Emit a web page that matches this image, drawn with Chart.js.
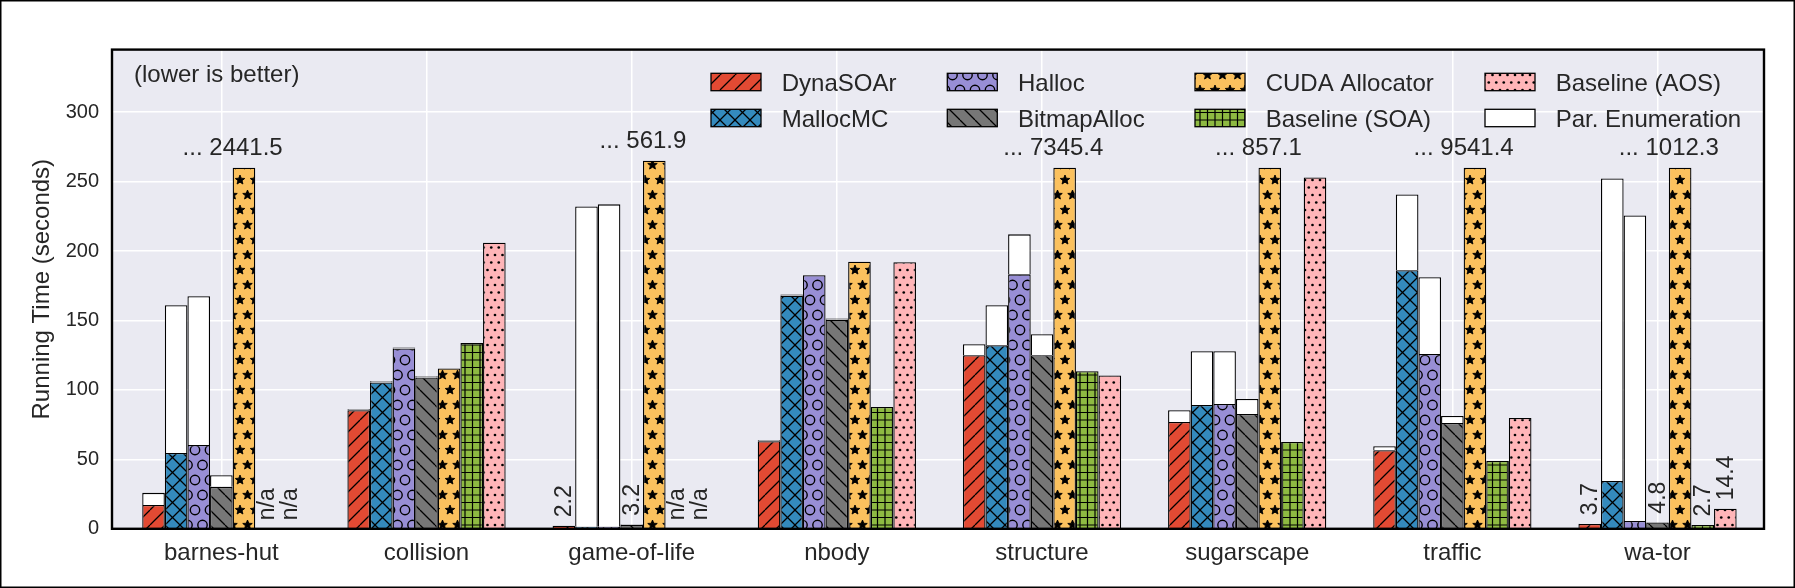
<!DOCTYPE html>
<html>
<head>
<meta charset="utf-8">
<script src="https://cdn.jsdelivr.net/npm/chart.js@4.4.0/dist/chart.umd.min.js"></script>
<style>
html,body{margin:0;padding:0;background:#fff;}
#wrap{width:1795px;height:588px;position:relative;}
canvas{display:block;}
</style>
</head>
<body>
<div id="wrap"><canvas id="c" width="1795" height="588"></canvas></div>
<script>
// ---------------- data ----------------
const categories = ['barnes-hut', 'collision', 'game-of-life', 'nbody', 'structure', 'sugarscape', 'traffic', 'wa-tor'];
const seriesNames = ['DynaSOAr', 'MallocMC', 'Halloc', 'BitmapAlloc', 'CUDA Allocator', 'Baseline (SOA)', 'Baseline (AOS)'];
const enumName = 'Par. Enumeration';

// running time without parallel enumeration (seconds)
const dynasoar = [17.2, 85.3, 2.0, 63.0, 125.0, 76.9, 56.5, 3.5];
const mallocmc = [54.6, 105.4, 1.5, 167.9, 132.2, 89.1, 186.1, 34.5];
const halloc   = [60.4, 129.8, 1.5, 182.5, 183.2, 89.8, 125.8, 5.7];
const bitmap   = [30.2, 109.0, 3.0, 150.6, 125.0, 82.6, 76.2, 4.6];
const cuda     = [2441.5, 115.4, 561.9, 192.3, 7345.4, 857.1, 9541.4, 1012.3];
const soa      = [null, 133.7, null, 87.7, 113.5, 62.5, 48.9, 2.7];
const aos      = [null, 206.0, null, 191.9, 110.4, 253.0, 79.8, 14.4];

// additional time for parallel enumeration (stacked on top)
const dynasoarEnum = [8.7, 0.8, 0.2, 0.8, 7.9, 8.4, 2.9, 0.2];
const mallocmcEnum = [106.4, 0.8, 230.6, 0.8, 28.8, 38.8, 54.6, 217.7];
const hallocEnum   = [107.0, 0.8, 232.1, 0.3, 28.8, 38.1, 55.3, 219.9];
const bitmapEnum   = [8.3, 0.8, 0.2, 0.8, 15.1, 10.8, 5.0, 0.2];

// height at which the (broken) CUDA Allocator bars are cut off
const cudaClip = [260, null, 265, null, 260, 260, 260, 260];

// y-axis tick values
const yTicks = [0, 50, 100, 150, 200, 250, 300];

// ---------------- styles ----------------
const family = '"Liberation Sans", Arial, Helvetica, sans-serif';
const textColor = '#262626';
const colors = ['#E24A33', '#348ABD', '#988ED5', '#777777', '#FBC15E', '#8EBA42', '#FFB5B8'];
const hatches = ['/', 'x', 'o', '\\', '*', '+', '.'];

function star(g, cx, cy, ro, ri) {
  g.beginPath();
  for (let k = 0; k < 10; k++) {
    const r = k % 2 === 0 ? ro : ri;
    const ang = -Math.PI / 2 + k * Math.PI / 5;
    const px = cx + r * Math.cos(ang), py = cy + r * Math.sin(ang);
    if (k === 0) g.moveTo(px, py); else g.lineTo(px, py);
  }
  g.closePath();
  g.fill();
  g.stroke();
}

function makePattern(color, kind) {
  const S = 15;
  const c = document.createElement('canvas');
  const w = S, h = (kind === 'o' || kind === '*') ? 2 * S : S;
  c.width = w; c.height = h;
  const g = c.getContext('2d');
  g.fillStyle = color; g.fillRect(0, 0, w, h);
  g.strokeStyle = '#000'; g.fillStyle = '#000'; g.lineWidth = 1.3;
  g.lineJoin = 'round';
  if (kind === '/' || kind === 'x') {
    g.beginPath();
    for (const k of [-1, 0, 1]) { g.moveTo(k * S, S); g.lineTo(k * S + S, 0); }
    g.stroke();
  }
  if (kind === '\\' || kind === 'x') {
    g.beginPath();
    for (const k of [-1, 0, 1]) { g.moveTo(k * S, 0); g.lineTo(k * S + S, S); }
    g.stroke();
  }
  if (kind === '+') {
    g.lineWidth = 1.2;
    g.beginPath();
    for (const p of [0, S / 2, S]) { g.moveTo(p, 0); g.lineTo(p, S); g.moveTo(0, p); g.lineTo(S, p); }
    g.stroke();
  }
  const stag = [[0, 0], [S, 0], [0, 2 * S], [S, 2 * S], [S / 2, S]];
  if (kind === 'o') {
    g.lineWidth = 1.4;
    for (const [cx, cy] of stag) { g.beginPath(); g.arc(cx, cy, 4.7, 0, Math.PI * 2); g.stroke(); }
  }
  if (kind === '*') {
    g.lineWidth = 0.9;
    for (const [cx, cy] of stag) star(g, cx, cy, 5.0, 2.2);
  }
  if (kind === '.') {
    const pts = [[0, 0], [7.5, 0], [15, 0], [0, 15], [7.5, 15], [15, 15], [3.75, 7.5], [11.25, 7.5]];
    for (const [cx, cy] of pts) { g.beginPath(); g.arc(cx, cy, 1.35, 0, Math.PI * 2); g.fill(); }
  }
  return g.createPattern(c, 'repeat');
}

const fills = colors.map((c, i) => makePattern(c, hatches[i]));

// ---------------- datasets ----------------
const baseSeries = [dynasoar, mallocmc, halloc, bitmap, cuda, soa, aos];
const enumSeries = [dynasoarEnum, mallocmcEnum, hallocEnum, bitmapEnum];

function shown(s, i) {
  const v = baseSeries[s][i];
  if (v == null) return null;
  if (s === 4 && cudaClip[i] != null) return cudaClip[i];
  return v;
}

const datasets = [];
seriesNames.forEach((name, s) => {
  datasets.push({
    label: name,
    data: categories.map((_, i) => ({ x: i, y: shown(s, i) })),
    stack: 's' + s,
    backgroundColor: fills[s],
    borderColor: '#000',
    borderWidth: 1.3
  });
});
enumSeries.forEach((arr, s) => {
  datasets.push({
    label: enumName,
    data: categories.map((_, i) => ({ x: i, y: arr[i] })),
    stack: 's' + s,
    backgroundColor: '#FFFFFF',
    borderColor: '#000',
    borderWidth: 1.3
  });
});

function totalOf(s, i) {
  const v = baseSeries[s][i];
  if (v == null) return null;
  return v + (s < 4 ? enumSeries[s][i] : 0);
}

// ---------------- overlay plugin ----------------
const overlay = {
  id: 'overlay',
  beforeDraw(chart) {
    const { ctx, chartArea: a } = chart;
    ctx.save();
    ctx.fillStyle = '#fff';
    ctx.fillRect(0, 0, chart.width, chart.height);
    ctx.fillStyle = '#EAEAF2';
    ctx.fillRect(a.left, a.top, a.right - a.left, a.bottom - a.top);
    ctx.restore();
  },
  afterDatasetsDraw(chart) {
    const { ctx, chartArea: a } = chart;
    const xs = chart.scales.x, ys = chart.scales.y;
    ctx.save();

    // spines
    ctx.strokeStyle = '#000';
    ctx.lineWidth = 2.4;
    ctx.strokeRect(a.left, a.top, a.right - a.left, a.bottom - a.top);

    // figure frame
    ctx.lineWidth = 1.5;
    ctx.strokeRect(0.75, 0.75, chart.width - 1.5, chart.height - 1.5);

    // broken CUDA bars annotation
    const cm = chart.getDatasetMeta(4);
    ctx.fillStyle = textColor;
    ctx.font = '24px ' + family;
    ctx.textAlign = 'center';
    ctx.textBaseline = 'alphabetic';
    cuda.forEach((v, i) => {
      if (cudaClip[i] == null) return;
      const el = cm.data[i];
      ctx.fillText('... ' + v.toFixed(1), el.x - el.width / 2, el.y - 12.3);
    });

    // small values / n/a rotated labels
    const bw = cm.data[0].width;
    ctx.font = '23px ' + family;
    ctx.textAlign = 'left';
    ctx.textBaseline = 'middle';
    for (let s = 0; s < 7; s++) {
      if (s === 4) continue;
      categories.forEach((_, i) => {
        const t = totalOf(s, i);
        let txt = null;
        if (t == null) txt = 'n/a';
        else if (t < 15) txt = t.toFixed(1);
        if (!txt) return;
        const px = xs.getPixelForValue(i) + (s - 3) * bw;
        const py = ys.getPixelForValue(t == null ? 0 : t) - 8.5;
        ctx.save();
        ctx.translate(px, py);
        ctx.rotate(-Math.PI / 2);
        ctx.fillText(txt, 0, 1);
        ctx.restore();
      });
    }

    // "(lower is better)"
    ctx.font = '24px ' + family;
    ctx.textAlign = 'left';
    ctx.textBaseline = 'alphabetic';
    ctx.fillText('(lower is better)', 134, 82);

    // legend (4 columns, column-major like the original)
    const items = [
      [seriesNames[0], fills[0]], [seriesNames[1], fills[1]],
      [seriesNames[2], fills[2]], [seriesNames[3], fills[3]],
      [seriesNames[4], fills[4]], [seriesNames[5], fills[5]],
      [seriesNames[6], fills[6]], [enumName, '#FFFFFF']
    ];
    const colX = [711, 947.3, 1195, 1485];
    const rowY = [73.3, 109.3];
    items.forEach(([label, fill], k) => {
      const cx = colX[Math.floor(k / 2)], cy = rowY[k % 2];
      ctx.fillStyle = fill;
      ctx.fillRect(cx, cy, 50, 17.4);
      ctx.strokeStyle = '#000';
      ctx.lineWidth = 1.3;
      ctx.strokeRect(cx, cy, 50, 17.4);
      ctx.fillStyle = textColor;
      ctx.fillText(label, cx + 70.7, cy + 17.6);
    });

    ctx.restore();
  }
};

// ---------------- chart ----------------
new Chart(document.getElementById('c'), {
  type: 'bar',
  data: { datasets },
  plugins: [overlay],
  options: {
    responsive: false,
    animation: false,
    devicePixelRatio: 1,
    layout: { padding: { top: 49.6, right: 31, bottom: 0, left: 0 } },
    datasets: { bar: { categoryPercentage: 0.7713, barPercentage: 1.0 } },
    plugins: { legend: { display: false }, tooltip: { enabled: false } },
    scales: {
      x: {
        type: 'linear',
        min: -0.533,
        max: 7.519,
        offset: false,
        afterBuildTicks: (axis) => { axis.ticks = categories.map((_, i) => ({ value: i })); },
        ticks: {
          callback: (v) => categories[v],
          autoSkip: false,
          maxRotation: 0,
          minRotation: 0,
          padding: 10,
          color: textColor,
          font: { family, size: 24 }
        },
        grid: { color: '#FFFFFF', lineWidth: 1.5, drawTicks: false, offset: false },
        border: { display: false },
        afterFit: (s) => { s.height = 59.2; }
      },
      y: {
        type: 'linear',
        min: 0,
        max: 345,
        stacked: true,
        afterBuildTicks: (axis) => { axis.ticks = yTicks.map(v => ({ value: v })); },
        ticks: {
          padding: 13,
          color: textColor,
          font: { family, size: 20 }
        },
        grid: { color: '#FFFFFF', lineWidth: 1.5, drawTicks: false },
        border: { display: false },
        title: {
          display: true,
          text: 'Running Time (seconds)',
          color: textColor,
          font: { family, size: 24 },
          padding: { top: 28, bottom: 0 }
        },
        afterFit: (s) => { s.width = 112; }
      }
    }
  }
});
</script>
</body>
</html>
